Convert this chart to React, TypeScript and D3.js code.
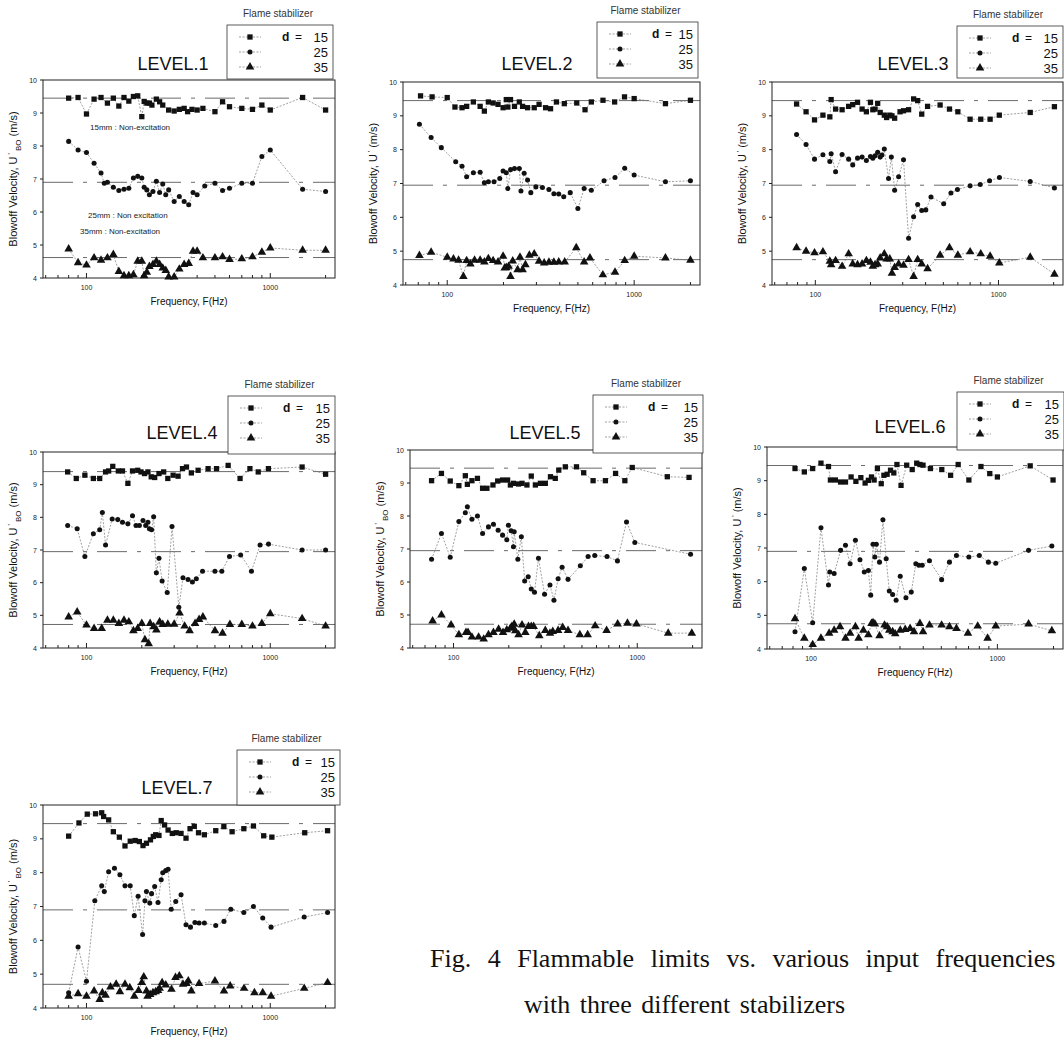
import React from "react";
import * as d3 from "d3";

type Pt = [number, number];

// frequency (Hz), blowoff velocity (m/s) for each stabilizer d = 15, 25, 35
const level1d15: Pt[] = [[80,9.45],[90,9.47],[100,8.97],[110,9.42],[120,9.47],[130,9.3],[140,9.45],[150,9.21],[160,9.47],[170,9.36],[180,9.5],[190,9.52],[200,8.89],[206,9.35],[213,9.3],[220,9.3],[227,9.24],[240,9.42],[250,9.34],[260,9.24],[280,9.09],[300,9.06],[320,9.11],[340,9.14],[355,9.04],[375,9.11],[400,9.09],[430,9.14],[500,9.04],[550,9.34],[600,9.19],[700,9.14],[800,9.11],[900,9.24],[1000,9.09],[1500,9.47],[2000,9.09]];
const level1d25: Pt[] = [[80,8.14],[90,7.88],[100,7.8],[110,7.48],[120,7.18],[125,6.87],[130,6.9],[140,6.75],[150,6.65],[160,6.69],[170,6.72],[180,7.03],[190,7.08],[200,7.03],[206,6.75],[213,6.67],[220,6.52],[230,6.62],[240,6.93],[250,6.59],[260,6.85],[270,6.52],[280,6.67],[300,6.32],[320,6.47],[340,6.32],[360,6.22],[380,6.59],[400,6.52],[440,6.79],[500,6.87],[550,6.65],[600,6.72],[700,6.87],[800,6.87],[900,7.68],[1000,7.88],[1500,6.69],[2000,6.62]];
const level1d35: Pt[] = [[80,4.88],[90,4.46],[100,4.39],[110,4.61],[120,4.54],[130,4.61],[140,4.71],[150,4.2],[160,4.07],[170,4.07],[180,4.1],[190,4.51],[200,4.51],[206,4.07],[213,4.17],[220,4.35],[230,4.41],[240,4.51],[250,4.41],[260,4.3],[270,4.23],[280,4.03],[300,4.03],[320,4.27],[340,4.41],[360,4.44],[380,4.81],[400,4.81],[430,4.61],[500,4.61],[550,4.64],[600,4.56],[700,4.58],[800,4.64],[900,4.78],[1000,4.91],[1500,4.84],[2000,4.84]];

const level2d15: Pt[] = [[72,9.59],[83,9.56],[100,9.54],[110,9.26],[120,9.24],[127,9.28],[138,9.41],[150,9.28],[158,9.14],[166,9.41],[176,9.38],[187,9.34],[199,9.24],[207,9.48],[211,9.26],[218,9.48],[229,9.28],[243,9.41],[253,9.28],[269,9.24],[292,9.24],[310,9.34],[336,9.24],[357,9.21],[384,9.41],[423,9.36],[493,9.38],[546,9.18],[590,9.41],[681,9.46],[786,9.41],[888,9.56],[1000,9.51],[1470,9.36],[2000,9.46]];
const level2d25: Pt[] = [[71,8.75],[82,8.36],[93,8.06],[111,7.64],[120,7.51],[127,7.2],[138,7.32],[150,7.33],[158,7.02],[166,7.05],[178,7.05],[191,7.15],[199,7.37],[207,7.32],[211,6.85],[218,7.41],[229,7.44],[243,7.44],[248,6.78],[258,7.3],[269,7.1],[280,6.73],[298,6.9],[323,6.88],[350,6.82],[372,6.7],[395,6.69],[420,6.61],[455,6.73],[500,6.26],[540,6.85],[590,6.8],[690,7.08],[790,7.18],[890,7.45],[1000,7.25],[1470,7.05],[2000,7.08]];
const level2d35: Pt[] = [[71,4.87],[82,4.97],[100,4.82],[108,4.77],[115,4.73],[122,4.25],[127,4.72],[133,4.62],[140,4.73],[150,4.73],[158,4.68],[166,4.78],[176,4.72],[187,4.68],[199,4.85],[203,4.5],[207,4.52],[213,4.55],[218,4.25],[224,4.71],[238,4.45],[245,4.82],[253,4.45],[262,4.6],[275,4.88],[292,4.92],[310,4.7],[330,4.65],[350,4.67],[372,4.67],[395,4.68],[425,4.68],[490,5.1],[540,4.68],[580,4.8],[680,4.3],[790,4.38],[890,4.72],[1000,4.85],[1470,4.8],[2000,4.73]];

const level3d15: Pt[] = [[79,9.35],[89,9.12],[99,8.88],[110,9.02],[120,8.97],[122,9.48],[129,9.2],[140,9.18],[152,9.28],[160,9.33],[170,9.4],[180,9.2],[190,9.12],[200,9.4],[206,9.18],[212,9.2],[219,9.37],[226,9.1],[238,9.02],[245,8.95],[255,9.02],[262,9.0],[271,8.93],[290,9.12],[303,9.15],[323,9.18],[344,9.5],[362,9.45],[381,9.05],[410,9.28],[480,9.32],[540,9.2],[600,9.12],[700,8.9],[800,8.9],[900,8.9],[1010,9.02],[1490,9.1],[2020,9.27]];
const level3d25: Pt[] = [[79,8.45],[89,8.15],[99,7.72],[110,7.85],[120,7.65],[122,7.88],[129,7.35],[140,7.86],[152,7.72],[160,7.55],[170,7.75],[180,7.78],[190,7.68],[200,7.8],[206,7.75],[212,7.82],[219,7.92],[226,7.78],[231,7.84],[238,8.02],[251,7.15],[260,7.78],[271,6.8],[285,7.2],[303,7.7],[323,5.38],[344,6.02],[362,6.38],[381,6.2],[401,6.22],[428,6.6],[502,6.4],[550,6.72],[597,6.82],[700,6.93],[795,6.97],[894,7.08],[1012,7.18],[1490,7.06],[2020,6.87]];
const level3d35: Pt[] = [[79,5.1],[89,5.0],[99,4.95],[110,4.98],[120,4.7],[122,4.6],[129,4.72],[140,4.55],[152,4.92],[160,4.62],[170,4.6],[180,4.62],[190,4.72],[200,4.67],[206,4.55],[212,4.6],[219,4.62],[226,4.8],[238,4.92],[245,4.77],[255,4.77],[262,4.35],[271,4.52],[285,4.62],[303,4.58],[323,4.75],[344,4.25],[362,4.75],[381,4.62],[410,4.48],[480,4.88],[540,5.1],[600,4.88],[700,4.98],[800,4.92],[900,4.85],[1010,4.65],[1490,4.82],[2020,4.32]];

const level4d15: Pt[] = [[79,9.39],[88,9.19],[98,9.29],[109,9.19],[118,9.19],[127,9.39],[132,9.42],[139,9.56],[149,9.42],[157,9.42],[168,9.04],[178,9.42],[190,9.44],[198,9.39],[207,9.34],[216,9.39],[225,9.24],[235,9.22],[248,9.34],[263,9.39],[277,9.19],[296,9.29],[315,9.26],[333,9.49],[350,9.54],[372,9.36],[405,9.44],[459,9.49],[510,9.49],[590,9.59],[685,9.19],[775,9.49],[860,9.39],[977,9.49],[1490,9.54],[2000,9.32]];
const level4d25: Pt[] = [[79,7.75],[89,7.65],[98,6.8],[109,7.5],[118,7.62],[122,8.15],[127,7.15],[138,7.95],[148,7.93],[157,7.85],[168,7.8],[178,8.05],[186,7.75],[194,7.75],[203,7.9],[210,7.75],[216,7.85],[220,7.65],[226,7.62],[232,8.02],[240,6.3],[248,6.75],[258,6.05],[275,5.7],[292,7.72],[318,5.25],[335,6.15],[357,6.1],[377,6.02],[396,6.12],[428,6.35],[500,6.35],[545,6.35],[600,6.8],[690,6.85],[790,6.35],[880,7.15],[978,7.18],[1490,7.0],[2000,7.0]];
const level4d35: Pt[] = [[80,4.95],[89,5.1],[100,4.7],[110,4.6],[121,4.6],[130,4.85],[140,4.85],[150,4.75],[160,4.85],[170,4.8],[180,4.53],[190,4.6],[200,4.75],[208,4.25],[218,4.13],[222,4.75],[232,4.65],[240,4.55],[250,4.8],[260,4.72],[277,4.73],[300,4.73],[321,5.07],[342,4.67],[364,4.53],[390,4.75],[410,4.87],[430,4.95],[500,4.53],[550,4.45],[603,4.72],[700,4.72],[800,4.67],[900,4.75],[1000,5.05],[1490,4.9],[2000,4.67]];

const level5d15: Pt[] = [[76,9.07],[86,9.29],[96,9.06],[107,8.92],[116,9.22],[119,8.96],[126,9.07],[135,9.14],[144,8.84],[152,8.84],[164,8.94],[174,9.06],[185,9.09],[197,9.09],[204,8.94],[212,8.99],[226,8.97],[236,8.99],[251,8.94],[265,9.21],[279,8.94],[297,8.99],[316,8.99],[337,9.19],[358,9.14],[374,9.39],[406,9.49],[467,9.49],[511,9.31],[575,9.07],[671,9.07],[762,9.29],[856,9.07],[939,9.47],[1457,9.19],[1913,9.17]];
const level5d25: Pt[] = [[76,6.69],[86,7.47],[96,6.75],[107,7.83],[116,8.1],[119,8.28],[126,7.9],[135,8.0],[144,7.47],[155,7.67],[165,7.75],[175,7.57],[185,7.42],[195,7.28],[199,7.72],[206,7.55],[212,7.07],[214,7.52],[224,6.69],[234,7.37],[244,6.03],[255,6.16],[265,5.79],[276,5.69],[290,6.72],[313,5.63],[335,5.91],[352,5.45],[371,6.1],[390,6.45],[420,6.08],[490,6.49],[540,6.77],[587,6.8],[685,6.77],[780,6.64],[874,7.82],[970,7.2],[1950,6.84]];
const level5d35: Pt[] = [[77,4.82],[86,5.0],[97,4.7],[107,4.4],[117,4.47],[120,4.47],[126,4.33],[137,4.33],[146,4.27],[155,4.4],[165,4.47],[176,4.57],[186,4.47],[195,4.55],[204,4.6],[208,4.65],[214,4.72],[217,4.52],[226,4.4],[236,4.7],[246,4.47],[256,4.65],[265,4.65],[273,4.65],[293,4.37],[316,4.53],[335,4.45],[347,4.5],[371,4.53],[393,4.62],[420,4.53],[487,4.4],[537,4.4],[590,4.67],[681,4.53],[782,4.73],[884,4.75],[990,4.73],[1473,4.45],[1980,4.45]];

const level6d15: Pt[] = [[82,9.36],[92,9.26],[102,9.36],[113,9.52],[124,9.42],[127,9.02],[135,9.02],[144,8.96],[153,8.96],[164,9.11],[174,8.98],[185,9.09],[195,8.93],[203,9.01],[211,9.11],[218,9.02],[227,9.36],[238,8.91],[246,9.16],[256,9.19],[267,9.31],[278,9.23],[289,9.48],[304,8.86],[326,9.46],[349,9.33],[369,9.52],[384,9.48],[399,9.46],[437,9.36],[503,9.33],[561,9.16],[616,9.48],[703,9.02],[816,9.42],[910,9.21],[1000,9.11],[1500,9.44],[1990,9.02]];
const level6d25: Pt[] = [[82,4.51],[92,6.39],[102,4.78],[113,7.6],[124,5.9],[126,6.29],[133,6.24],[144,6.93],[153,7.08],[162,6.53],[173,7.23],[183,6.65],[193,6.29],[203,6.33],[209,5.6],[215,7.11],[220,6.73],[224,7.11],[233,6.58],[243,7.84],[253,6.68],[263,5.72],[274,5.62],[286,5.45],[301,6.16],[323,5.52],[345,5.69],[365,6.53],[379,6.49],[395,6.49],[432,6.62],[502,6.06],[553,6.58],[603,6.78],[703,6.73],[800,6.78],[895,6.58],[980,6.55],[1470,6.93],[1960,7.06]];
const level6d35: Pt[] = [[82,4.9],[92,4.32],[102,4.13],[113,4.32],[125,4.47],[133,4.56],[143,4.66],[153,4.32],[162,4.47],[173,4.66],[180,4.32],[191,4.56],[203,4.42],[211,4.76],[215,4.78],[220,4.74],[233,4.39],[248,4.71],[256,4.66],[263,4.56],[274,4.51],[283,4.45],[301,4.56],[320,4.58],[340,4.61],[357,4.51],[384,4.76],[399,4.51],[432,4.71],[502,4.71],[553,4.66],[603,4.61],[695,4.47],[784,4.68],[886,4.32],[980,4.68],[1470,4.74],[1960,4.54]];

const level7d15: Pt[] = [[80,9.08],[91,9.47],[101,9.73],[112,9.74],[121,9.77],[124,9.66],[132,9.56],[140,9.21],[151,9.05],[162,8.79],[173,8.93],[184,8.95],[194,8.92],[203,8.8],[212,8.87],[223,8.97],[231,9.07],[238,9.12],[248,9.1],[255,9.54],[266,9.41],[278,9.26],[293,9.16],[308,9.18],[327,9.16],[348,9.02],[366,9.3],[386,9.37],[407,9.18],[438,9.12],[505,9.24],[559,9.36],[620,9.21],[718,9.3],[810,9.38],[921,9.09],[1020,9.05],[1540,9.18],[2050,9.24]];
const level7d25: Pt[] = [[80,4.45],[90,5.8],[100,4.79],[111,7.17],[121,7.61],[125,7.44],[132,8.03],[142,8.13],[152,7.94],[162,7.61],[173,7.61],[182,6.73],[191,7.3],[202,6.17],[208,7.17],[212,7.44],[221,7.1],[226,7.38],[235,7.59],[245,7.12],[255,7.79],[260,8.0],[270,8.06],[278,8.1],[289,6.92],[306,7.15],[327,7.35],[348,6.46],[368,6.39],[389,6.53],[410,6.51],[438,6.51],[505,6.44],[560,6.56],[610,6.92],[718,6.82],[810,7.0],[910,6.66],[1010,6.39],[1530,6.69],[2050,6.82]];
const level7d35: Pt[] = [[80,4.35],[90,4.42],[100,4.35],[110,4.5],[118,4.25],[122,4.45],[127,4.38],[135,4.62],[145,4.7],[152,4.48],[162,4.7],[172,4.6],[182,4.35],[192,4.52],[200,4.75],[205,4.92],[212,4.5],[215,4.35],[222,4.4],[230,4.45],[238,4.48],[245,4.52],[250,4.58],[258,4.75],[270,4.68],[290,4.55],[305,4.9],[320,4.95],[335,4.7],[350,4.72],[358,4.8],[372,4.5],[410,4.72],[500,4.8],[560,4.5],[605,4.65],[720,4.58],[820,4.45],[910,4.45],[1010,4.35],[1530,4.58],[2050,4.75]];

// non-excitation reference levels for each level (d = 15, 25, 35)
const level1Base = [9.45, 6.9, 4.62];
const level2Base = [9.45, 6.95, 4.75];
const level3Base = [9.45, 6.95, 4.75];
const level4Base = [9.4, 6.95, 4.72];
const level5Base = [9.45, 6.95, 4.72];
const level6Base = [9.45, 6.9, 4.75];
const level7Base = [9.45, 6.9, 4.7];

const stabilizers = ["15", "25", "35"];
const yTicks = [4, 5, 6, 7, 8, 9, 10];
const xLabelTicks = [100, 1000];
const captionLines = [
  "Fig. 4 Flammable limits vs. various input frequencies",
  "with three different stabilizers",
];

const FONT = "'Liberation Sans', Arial, Helvetica, sans-serif";
const SERIF = "'Liberation Serif', 'Times New Roman', serif";
const xDomain = [58, 2250];
const symbols = [d3.symbolSquare, d3.symbolCircle, d3.symbolTriangle];
const symbolSizes = [28, 20, 32];

const panels = [
  { title: "LEVEL.1", series: [level1d15, level1d25, level1d35], base: level1Base, bo: true, xLabel: "Frequency, F(Hz)",
    frame: { x: 43, y: 80, w: 292, h: 198 }, titlePos: [173, 70], legend: { x: 227, y: 25, w: 106, h: 54 } },
  { title: "LEVEL.2", series: [level2d15, level2d25, level2d35], base: level2Base, bo: false, xLabel: "Frequency, F(Hz)",
    frame: { x: 403, y: 82, w: 297, h: 203 }, titlePos: [537, 70], legend: { x: 597, y: 22, w: 101, h: 56 } },
  { title: "LEVEL.3", series: [level3d15, level3d25, level3d35], base: level3Base, bo: false, xLabel: "Frequency, F(Hz)",
    frame: { x: 772, y: 82, w: 291, h: 203 }, titlePos: [913, 70], legend: { x: 957, y: 26, w: 106, h: 52 } },
  { title: "LEVEL.4", series: [level4d15, level4d25, level4d35], base: level4Base, bo: true, xLabel: "Frequency, F(Hz)",
    frame: { x: 43, y: 452, w: 292, h: 196 }, titlePos: [182, 439], legend: { x: 228, y: 396, w: 107, h: 58 } },
  { title: "LEVEL.5", series: [level5d15, level5d25, level5d35], base: level5Base, bo: true, xLabel: "Frequency, F(Hz)",
    frame: { x: 410, y: 450, w: 292, h: 198 }, titlePos: [545, 439], legend: { x: 593, y: 395, w: 110, h: 58 } },
  { title: "LEVEL.6", series: [level6d15, level6d25, level6d35], base: level6Base, bo: false, xLabel: "Frequency F(Hz)",
    frame: { x: 767, y: 447, w: 296, h: 202 }, titlePos: [910, 433], legend: { x: 957, y: 392, w: 107, h: 58 } },
  { title: "LEVEL.7", series: [level7d15, level7d25, level7d35], base: level7Base, bo: true, xLabel: "Frequency, F(Hz)",
    frame: { x: 43, y: 805, w: 292, h: 203 }, titlePos: [177, 794], legend: { x: 237, y: 750, w: 103, h: 55 } },
];

const Panel = ({ p }) => {
  const { frame, legend } = p;
  const x = d3.scaleLog().domain(xDomain).range([frame.x, frame.x + frame.w]);
  const y = d3.scaleLinear().domain([4, 10]).range([frame.y + frame.h, frame.y]);
  const line = d3.line<Pt>().x(d => x(d[0])).y(d => y(d[1]));
  const minorX = x.ticks().filter(t => t >= xDomain[0] && t <= xDomain[1]);
  const bottom = frame.y + frame.h;
  const cy = frame.y + frame.h / 2;
  const lx = frame.x - 26;

  return (
    <g fontFamily={FONT}>
      {/* non-excitation levels */}
      {p.base.map((b, i) => (
        <line key={"b" + i} x1={frame.x} x2={frame.x + frame.w} y1={y(b)} y2={y(b)}
          stroke="#444" strokeWidth={0.8} strokeDasharray="30,10,4,10" />
      ))}
      <rect x={frame.x} y={frame.y} width={frame.w} height={frame.h} fill="none" stroke="#222" strokeWidth={1} />
      {yTicks.map(t => (
        <g key={"y" + t}>
          <line x1={frame.x - 3} x2={frame.x} y1={y(t)} y2={y(t)} stroke="#222" />
          <text x={frame.x - 6} y={y(t) + 2.5} fontSize={7} textAnchor="end" fill="#222">{t}</text>
        </g>
      ))}
      {minorX.map(t => (
        <line key={"x" + t} x1={x(t)} x2={x(t)} y1={bottom} y2={bottom - (xLabelTicks.includes(t) ? 5 : 3)} stroke="#222" />
      ))}
      {xLabelTicks.map(t => (
        <text key={"xl" + t} x={x(t)} y={bottom + 12} fontSize={7} textAnchor="middle" fill="#222">{t}</text>
      ))}
      <text x={frame.x + frame.w / 2} y={bottom + 27} fontSize={10} textAnchor="middle" fill="#111">{p.xLabel}</text>
      <text transform={`translate(${lx},${cy}) rotate(-90)`} fontSize={11} textAnchor="middle" fill="#111">
        Blowoff Velocity,  U<tspan fontSize={7} dy={-4}> '</tspan>
        {p.bo ? <tspan fontSize={8} dy={8}> BO</tspan> : null}
        <tspan fontSize={11} dy={p.bo ? -4 : 4}>  (m/s)</tspan>
      </text>

      {p.series.map((s, i) => (
        <g key={"s" + i}>
          <path d={line(s)} fill="none" stroke="#777" strokeWidth={0.7} strokeDasharray="2,1.5" />
          {s.map((d, j) => (
            <path key={j} transform={`translate(${x(d[0])},${y(d[1])})`}
              d={d3.symbol().type(symbols[i]).size(symbolSizes[i])()} fill="#111" />
          ))}
        </g>
      ))}

      <text x={p.titlePos[0]} y={p.titlePos[1]} fontSize={18} textAnchor="middle" fill="#111">{p.title}</text>

      {/* legend */}
      <text x={legend.x + legend.w / 2 - 2} y={legend.y - 8} fontSize={10} textAnchor="middle" fill="#333">Flame stabilizer</text>
      <rect x={legend.x} y={legend.y} width={legend.w} height={legend.h} fill="#fff" stroke="#333" strokeWidth={0.8} />
      {stabilizers.map((s, i) => {
        const ry = legend.y + 12 + i * 15;
        return (
          <g key={"l" + i}>
            <line x1={legend.x + 12} x2={legend.x + 34} y1={ry} y2={ry} stroke="#777" strokeWidth={0.7} strokeDasharray="2,1.5" />
            <path transform={`translate(${legend.x + 23},${ry})`} d={d3.symbol().type(symbols[i]).size(symbolSizes[i])()} fill="#111" />
            {i === 0 ? (
              <>
                <text x={legend.x + 55} y={ry + 4} fontSize={12} fontWeight="bold" fill="#111">d</text>
                <text x={legend.x + 68} y={ry + 4} fontSize={12} fill="#111">=</text>
              </>
            ) : null}
            <text x={legend.x + legend.w - 5} y={ry + 4.5} fontSize={13} textAnchor="end" fill="#111">{s}</text>
          </g>
        );
      })}
    </g>
  );
};

const App = () => (
  <svg width={1064} height={1042} style={{ position: "absolute", left: 0, top: 0, background: "#fff" }}>
    <rect width={1064} height={1042} fill="#fff" />
    {panels.map(p => <Panel key={p.title} p={p} />)}
    <g fontFamily={FONT} fontSize={8} fill="#222">
      <text x={90} y={130}>15mm : Non-excitation</text>
      <text x={88} y={218}>25mm : Non excitation</text>
      <text x={80} y={234}>35mm : Non-excitation</text>
    </g>
    <g fontFamily={SERIF} fontSize={26} fill="#111">
      <text x={430} y={967} style={{ wordSpacing: "10px" }}>{captionLines[0]}</text>
      <text x={524} y={1013} style={{ wordSpacing: "3px" }}>{captionLines[1]}</text>
    </g>
  </svg>
);

export default App;
